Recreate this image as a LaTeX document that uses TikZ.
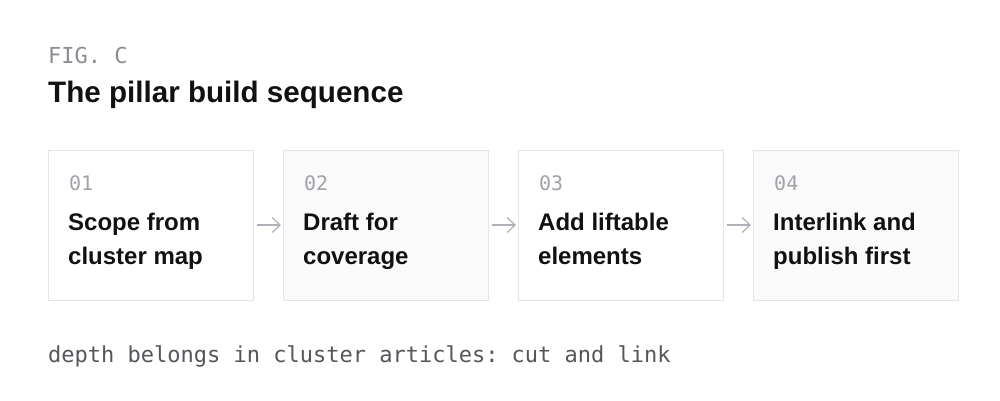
\documentclass[tikz,border=0pt]{standalone}
\usepackage{fontspec}
\setmainfont{Liberation Sans}
\setmonofont{DejaVu Sans Mono}
\usetikzlibrary{positioning,arrows.meta}

\definecolor{inkdark}{HTML}{111114}
\definecolor{labelgray}{HTML}{8C8C94}
\definecolor{notegray}{HTML}{55555C}
\definecolor{numgray}{HTML}{A1A1AA}
\definecolor{boxline}{HTML}{E4E4E7}
\definecolor{boxfill}{HTML}{FAFAFA}
\definecolor{arrowgray}{HTML}{B0B0B8}

\tikzset{
  stepbox/.style={draw=boxline, line width=1pt, minimum width=205pt, minimum height=150pt, inner sep=0pt, outer sep=0pt},
  stepnum/.style={anchor=base west, inner sep=0pt, text=numgray, font=\ttfamily\fontsize{20}{20}\selectfont},
  steptext/.style={anchor=base west, inner sep=0pt, align=left, text=inkdark, font=\bfseries\fontsize{24}{34}\selectfont},
  flow/.style={draw=arrowgray, line width=1.2pt, -{Straight Barb[length=8pt,width=15pt]}, shorten <=4pt, shorten >=2pt}
}

\begin{document}
\begin{tikzpicture}[x=1pt, y=-1pt, node distance=30pt]
    \useasboundingbox (0,0) rectangle (1000,400);

    \node [anchor=base west, inner sep=0pt, text=labelgray, font=\ttfamily\fontsize{22}{22}\selectfont] (fig) at (48,63) {FIG. C};
    \node [anchor=base west, inner sep=0pt, text=inkdark, font=\bfseries\fontsize{29.6}{30}\selectfont] (title) at (48,102) {The pillar build sequence};

    \node [stepbox, anchor=north west] (s1) at (48,150) {};
    \node [stepbox, fill=boxfill, right=of s1] (s2) {};
    \node [stepbox, right=of s2] (s3) {};
    \node [stepbox, fill=boxfill, right=of s3] (s4) {};

    \node [stepnum] (n1) at ([xshift=21pt, yshift=-40pt]s1.north west) {01};
    \node [stepnum] (n2) at ([xshift=21pt, yshift=-40pt]s2.north west) {02};
    \node [stepnum] (n3) at ([xshift=21pt, yshift=-40pt]s3.north west) {03};
    \node [stepnum] (n4) at ([xshift=21pt, yshift=-40pt]s4.north west) {04};

    % base is the last line here
    \node [steptext] (t1) at ([xshift=20pt, yshift=-114pt]s1.north west) {Scope from\\cluster map};
    \node [steptext] (t2) at ([xshift=20pt, yshift=-114pt]s2.north west) {Draft for\\coverage};
    \node [steptext] (t3) at ([xshift=20pt, yshift=-114pt]s3.north west) {Add liftable\\elements};
    \node [steptext] (t4) at ([xshift=20pt, yshift=-114pt]s4.north west) {Interlink and\\publish first};

    \draw [flow] (s1) -- (s2);
    \draw [flow] (s2) -- (s3);
    \draw [flow] (s3) -- (s4);

    \node [anchor=base west, inner sep=0pt, text=notegray, font=\ttfamily\fontsize{22}{22}\selectfont] (note) at (48,362) {depth belongs in cluster articles: cut and link};
\end{tikzpicture}
\end{document}
